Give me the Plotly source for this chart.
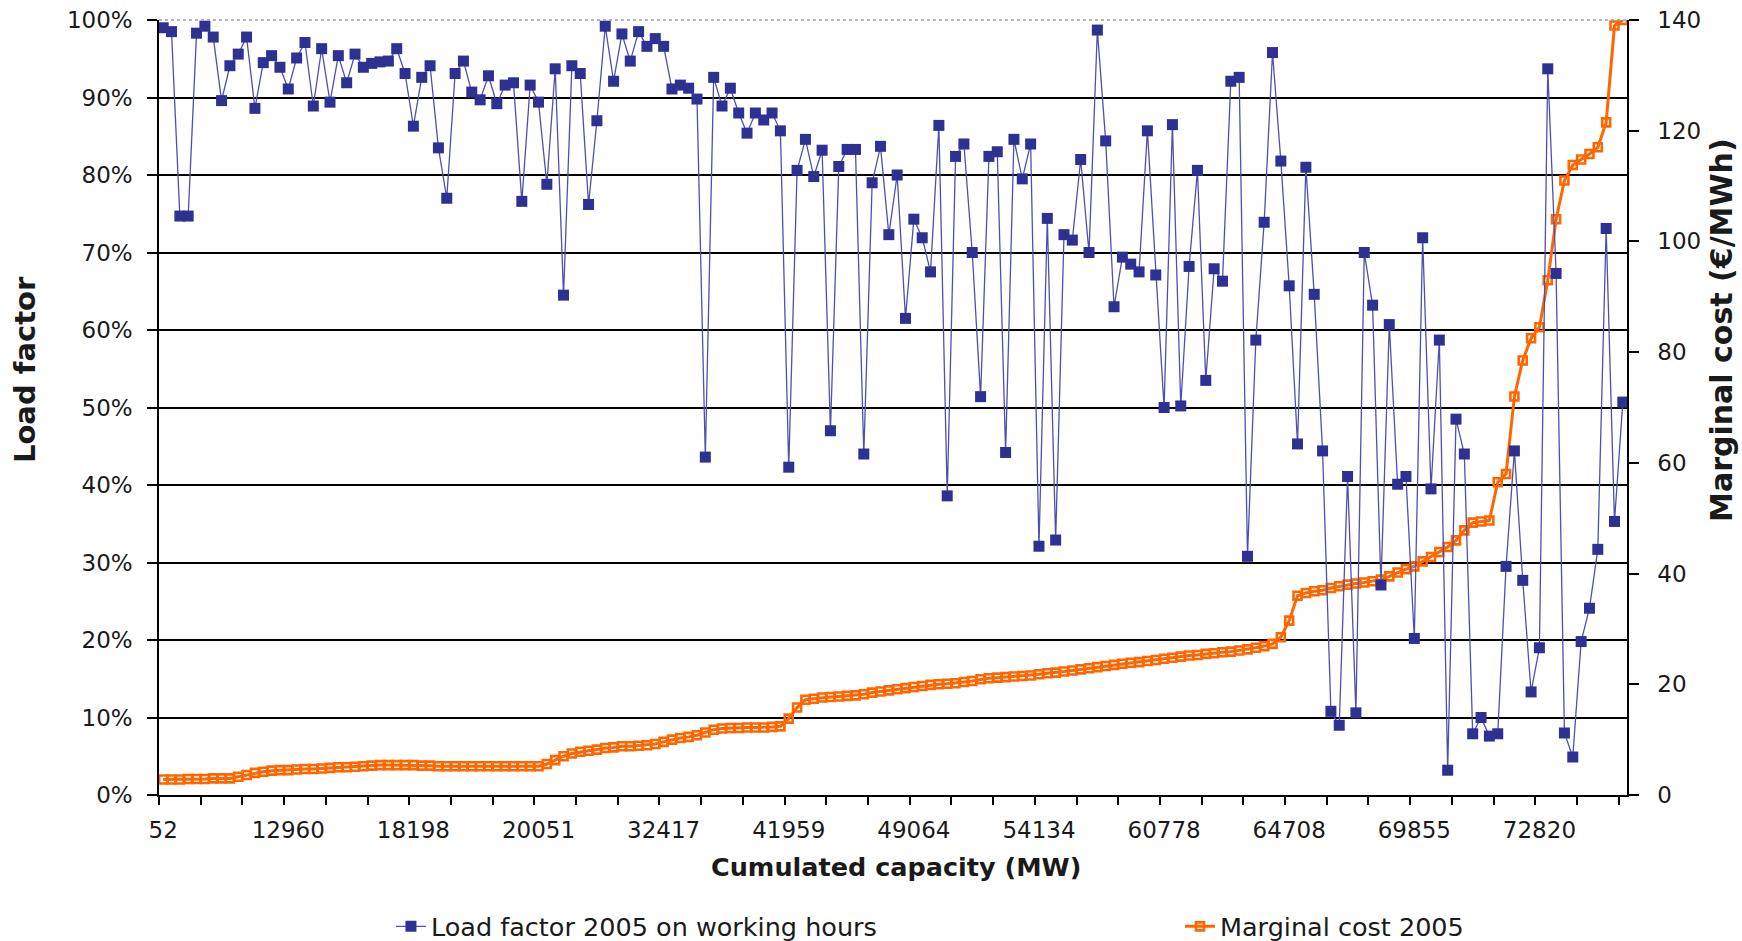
import plotly.graph_objects as go

# Cumulated capacity (MW) shown under every 15th plant
capacity_labels = ["52", "12960", "18198", "20051", "32417", "41959",
                   "49064", "54134", "60778", "64708", "69855", "72820"]
label_every = 15
tick_every = 5

# Load factor 2005 on working hours (%), one value per plant in merit order
load_factor = [
    99.0, 98.5, 74.7, 74.7, 98.3, 99.2, 97.8, 89.6, 94.1, 95.6,
    97.8, 88.6, 94.5, 95.4, 93.9, 91.1, 95.1, 97.1, 88.9, 96.3,
    89.4, 95.4, 91.9, 95.6, 93.9, 94.4, 94.6, 94.7, 96.3, 93.1,
    86.3, 92.6, 94.1, 83.5, 77.0, 93.1, 94.7, 90.7, 89.7, 92.8,
    89.2, 91.6, 91.9, 76.6, 91.6, 89.4, 78.8, 93.7, 64.5, 94.1,
    93.1, 76.2, 87.0, 99.2, 92.1, 98.2, 94.7, 98.5, 96.6, 97.6,
    96.6, 91.1, 91.6, 91.2, 89.8, 43.6, 92.6, 88.9, 91.2, 88.0,
    85.4, 88.0, 87.1, 88.0, 85.7, 42.3, 80.6, 84.6, 79.8, 83.2,
    47.0, 81.1, 83.3, 83.3, 44.0, 79.0, 83.7, 72.3, 80.0, 61.5,
    74.3, 71.9, 67.5, 86.4, 38.6, 82.4, 84.0, 70.0, 51.4, 82.4,
    83.0, 44.2, 84.6, 79.5, 84.0, 32.1, 74.4, 32.9, 72.3, 71.6,
    82.0, 70.0, 98.7, 84.4, 63.0, 69.4, 68.5, 67.5, 85.7, 67.1,
    50.0, 86.5, 50.2, 68.2, 80.6, 53.5, 67.9, 66.3, 92.1, 92.6,
    30.8, 58.7, 73.9, 95.8, 81.8, 65.7, 45.3, 81.0, 64.6, 44.4,
    10.8, 9.0, 41.1, 10.6, 70.0, 63.2, 27.1, 60.7, 40.1, 41.1,
    20.2, 71.9, 39.5, 58.7, 3.2, 48.5, 44.0, 7.9, 10.0, 7.6,
    7.9, 29.5, 44.4, 27.7, 13.3, 19.0, 93.7, 67.3, 8.0, 4.9,
    19.8, 24.1, 31.7, 73.1, 35.3, 50.7,
]

# Marginal cost 2005 (EUR/MWh), same plants
marginal_cost = [
    2.8, 2.8, 2.8, 2.9, 2.9, 2.9, 3.0, 3.0, 3.0, 3.3,
    3.6, 4.0, 4.2, 4.4, 4.5, 4.5, 4.6, 4.7, 4.7, 4.8,
    4.9, 5.0, 5.0, 5.1, 5.2, 5.3, 5.4, 5.4, 5.4, 5.4,
    5.4, 5.3, 5.3, 5.2, 5.2, 5.2, 5.2, 5.2, 5.2, 5.2,
    5.2, 5.2, 5.2, 5.2, 5.2, 5.2, 5.6, 6.3, 7.0, 7.5,
    7.8, 8.0, 8.2, 8.5, 8.6, 8.8, 8.8, 8.9, 9.0, 9.2,
    9.6, 10.0, 10.3, 10.5, 10.8, 11.3, 11.8, 12.0, 12.1, 12.1,
    12.2, 12.2, 12.2, 12.3, 12.4, 13.8, 15.8, 17.2, 17.4, 17.6,
    17.7, 17.8, 17.9, 18.0, 18.2, 18.5, 18.7, 18.9, 19.1, 19.3,
    19.5, 19.7, 19.9, 20.0, 20.1, 20.2, 20.4, 20.6, 20.9, 21.1,
    21.2, 21.3, 21.4, 21.5, 21.6, 21.8, 22.0, 22.1, 22.3, 22.5,
    22.7, 22.9, 23.1, 23.3, 23.5, 23.7, 23.9, 24.0, 24.2, 24.4,
    24.6, 24.8, 25.0, 25.2, 25.3, 25.5, 25.6, 25.8, 25.9, 26.1,
    26.3, 26.6, 26.9, 27.3, 28.5, 31.5, 36.0, 36.5, 36.8, 37.0,
    37.4, 37.7, 38.0, 38.2, 38.4, 38.6, 38.9, 39.5, 40.2, 40.8,
    41.3, 42.2, 43.0, 43.9, 44.8, 46.0, 47.8, 49.2, 49.4, 49.6,
    56.5, 58.0, 72.0, 78.5, 82.5, 84.5, 93.0, 104.0, 111.0, 113.8,
    114.8, 115.8, 117.0, 121.5, 139.0, 140.0,
]

n = len(load_factor)
xs = list(range(n))
label_pos = list(range(0, n, label_every))
boundary_ticks = [k - 0.5 for k in range(0, n + 1, tick_every)]

FONT = "DejaVu Sans"
TXT = "#1a1a1a"
ORANGE = "#FF6600"

fig = go.Figure()

# Marginal cost: orange line threaded through hollow square markers
fig.add_trace(go.Scatter(
    x=xs, y=marginal_cost, yaxis="y", mode="lines+markers",
    name="Marginal cost 2005", legend="legend2",
    line=dict(color=ORANGE, width=3),
    marker=dict(symbol="square-open", size=8,
                line=dict(color=ORANGE, width=2.6), color=ORANGE),
))

# Load factor on the left (percent) axis, drawn above the cost curve
fig.add_trace(go.Scatter(
    x=xs, y=[v / 100 for v in load_factor], yaxis="y2", mode="lines+markers",
    name="Load factor 2005 on working hours", legend="legend",
    line=dict(color="#4F4FB3", width=1.3),
    marker=dict(symbol="square", size=11, color="#2E3192"),
))

legend_common = dict(
    orientation="h", y=-0.170, xanchor="left", yanchor="middle",
    font=dict(size=25.5, color=TXT), bgcolor="rgba(0,0,0,0)",
)

fig.update_layout(
    width=1742, height=941,
    margin=dict(l=159, r=115, t=20, b=146, autoexpand=False),
    plot_bgcolor="white", paper_bgcolor="white",
    font=dict(family=FONT, size=23, color=TXT),
    showlegend=True,
    legend=dict(x=0.158, **legend_common),
    legend2=dict(x=0.6955, **legend_common),
    xaxis=dict(
        range=[-0.5, n - 0.5], tickvals=label_pos, ticktext=capacity_labels,
        ticks="", showline=True, linecolor="black", linewidth=1.5,
        showgrid=False, zeroline=False, ticklabelstandoff=14,
        minor=dict(tickvals=boundary_ticks, ticks="outside", ticklen=8,
                   tickcolor="black", tickwidth=1.5, showgrid=False),
    ),
    yaxis=dict(
        side="right", range=[0, 140], tick0=0, dtick=20,
        ticks="outside", ticklen=10, tickcolor="black", tickwidth=1.5,
        showline=True, linecolor="black", linewidth=1.5,
        showgrid=False, zeroline=False, ticklabelstandoff=14,
    ),
    yaxis2=dict(
        overlaying="y", side="left", range=[0, 1],
        tickvals=[k / 10 for k in range(11)], tickformat=".0%",
        ticks="outside", ticklen=10, tickcolor="black", tickwidth=1.5,
        showline=True, linecolor="black", linewidth=1.5,
        showgrid=False, zeroline=False, ticklabelstandoff=10,
        minor=dict(tickvals=[k / 10 for k in range(1, 10)], ticks="",
                   showgrid=True, gridcolor="black", gridwidth=1.5),
    ),
    shapes=[dict(type="line", xref="paper", yref="paper", x0=0, x1=1, y0=1, y1=1,
                 line=dict(color="#9a9ab0", width=1.5, dash="dot"))],
    annotations=[
        dict(text="<b>Load factor</b>", xref="paper", yref="paper",
             x=-0.0916, y=0.549, textangle=-90, showarrow=False,
             font=dict(size=29, color=TXT), xanchor="center", yanchor="middle"),
        dict(text="<b>Marginal cost (€/MWh)</b>", xref="paper", yref="paper",
             x=1.064, y=0.60, textangle=-90, showarrow=False,
             font=dict(size=30, color=TXT), xanchor="center", yanchor="middle"),
        dict(text="<b>Cumulated capacity (MW)</b>", xref="paper", yref="paper",
             x=0.502, y=-0.093, showarrow=False,
             font=dict(size=25.5, color=TXT), xanchor="center", yanchor="middle"),
    ],
)

fig.write_html("out.html")
